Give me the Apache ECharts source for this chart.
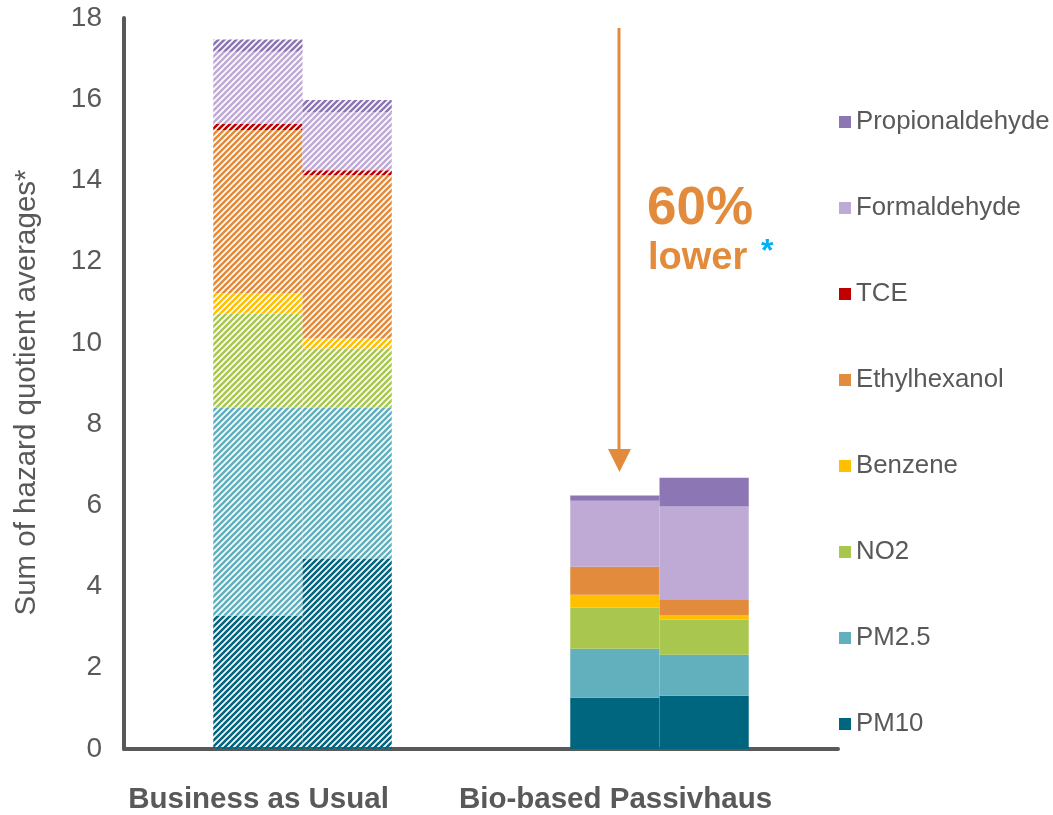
<!DOCTYPE html>
<html>
<head>
<meta charset="utf-8">
<script src="https://cdn.jsdelivr.net/npm/echarts@6/dist/echarts.min.js"></script>
<style>
  html, body { margin: 0; padding: 0; background: #fff; }
  #chart { width: 1053px; height: 815px; }
</style>
</head>
<body>
<div id="chart"></div>
<script>
// categories on the x axis
const categories = ['Business as Usual', 'Bio-based Passivhaus'];
// pollutants, bottom of stack first
const pollutants = ['PM10', 'PM2.5', 'NO2', 'Benzene', 'Ethylhexanol', 'TCE', 'Formaldehyde', 'Propionaldehyde'];
const colors = ['#006680', '#62b0bd', '#a9c74f', '#ffc000', '#e38b3c', '#c00000', '#bfaad6', '#8c76b3'];

// each category has two bars side by side (A = left, B = right)
const bauA = [3.28, 5.13, 2.31, 0.50, 4.02, 0.15, 1.78, 0.30];
const bauB = [4.68, 3.73, 1.45, 0.25, 4.02, 0.12, 1.43, 0.30];
const bioA = [1.26, 1.21, 1.01, 0.32, 0.69, 0, 1.62, 0.13];
const bioB = [1.31, 1.01, 0.86, 0.12, 0.37, 0, 2.30, 0.71];

const yTicks = { min: 0, max: 18, interval: 2 };

const FONT = '"Liberation Sans", Arial, sans-serif';
const GREY = '#595959';
const ORANGE = '#e38b3c';

// diagonal stripe fill for the business-as-usual bars
function hatch(color) {
    const c = document.createElement('canvas');
    c.width = 6; c.height = 6;
    const g = c.getContext('2d');
    g.strokeStyle = color;
    g.lineWidth = 2.6;
    g.beginPath();
    g.moveTo(-1, 7); g.lineTo(7, -1);
    g.moveTo(-4, 4); g.lineTo(4, -4);
    g.moveTo(2, 10); g.lineTo(10, 2);
    g.stroke();
    return { image: c, repeat: 'repeat' };
}

const series = [];
['A', 'B'].forEach(side => {
    const bau = side === 'A' ? bauA : bauB;
    const bio = side === 'A' ? bioA : bioB;
    pollutants.forEach((p, i) => {
        series.push({
            name: p,
            type: 'bar',
            stack: side,
            barGap: '0%',
            barCategoryGap: '50%',
            itemStyle: { color: colors[i] },
            emphasis: { disabled: true },
            data: [
                { value: bau[i], itemStyle: { color: hatch(colors[i]) } },
                bio[i]
            ]
        });
    });
});

const myChart = echarts.init(document.getElementById('chart'));
const option = {
    animation: false,
    backgroundColor: '#fff',
    textStyle: { fontFamily: FONT },
    grid: { left: 124, right: 215, top: 18, bottom: 65, containLabel: false },
    legend: {
        orient: 'vertical',
        left: 839,
        top: 109,
        padding: 0,
        itemWidth: 12,
        itemHeight: 12,
        itemGap: 60,
        icon: 'rect',
        data: pollutants.slice().reverse(),
        textStyle: { color: GREY, fontSize: 25.8, lineHeight: 25.6, fontFamily: FONT }
    },
    xAxis: {
        type: 'category',
        data: categories,
        axisLine: { lineStyle: { color: GREY, width: 4 } },
        axisTick: { show: false },
        axisLabel: {
            interval: 0,
            color: GREY,
            fontSize: 29.5,
            fontWeight: 'bold',
            fontFamily: FONT,
            margin: 36,
            padding: [0, 88, 0, 0]
        }
    },
    yAxis: {
        type: 'value',
        min: yTicks.min,
        max: yTicks.max,
        interval: yTicks.interval,
        name: 'Sum of hazard quotient averages*',
        nameLocation: 'middle',
        nameGap: 82,
        nameTextStyle: { color: GREY, fontSize: 29.5, fontFamily: FONT, padding: [0, 18, 0, 0] },
        axisLine: { show: true, lineStyle: { color: GREY, width: 4 } },
        axisTick: { show: false },
        splitLine: { show: false },
        axisLabel: { color: GREY, fontSize: 28, fontFamily: FONT, margin: 22 }
    },
    graphic: [
        {
            type: 'line',
            shape: { x1: 619, y1: 28, x2: 619, y2: 452 },
            style: { stroke: ORANGE, lineWidth: 3 }
        },
        {
            type: 'polygon',
            shape: { points: [[608, 449], [631, 449], [619.5, 472]] },
            style: { fill: ORANGE }
        },
        {
            type: 'text',
            left: 647,
            top: 183,
            style: { text: '60%', fill: ORANGE, font: 'bold 53px ' + FONT }
        },
        {
            type: 'text',
            left: 648,
            top: 240,
            style: { text: 'lower', fill: ORANGE, font: 'bold 38px ' + FONT }
        },
        {
            type: 'text',
            left: 761,
            top: 236,
            style: { text: '*', fill: '#00b0f0', font: 'bold 32px ' + FONT }
        }
    ],
    series: series
};
myChart.setOption(option);
</script>
</body>
</html>
